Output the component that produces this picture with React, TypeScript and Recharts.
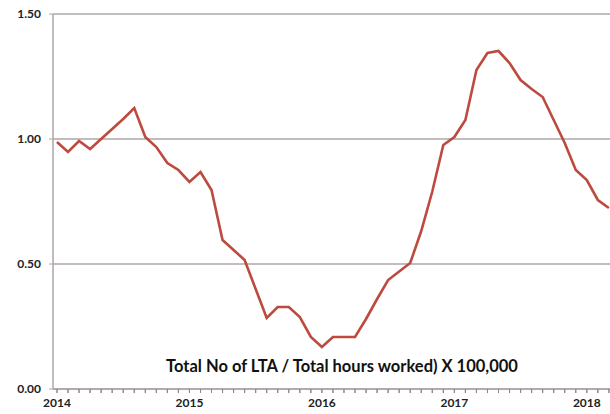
import React from "react";
import { LineChart, Line, XAxis, YAxis, CartesianGrid, ReferenceLine } from "recharts";

const monthIndex = [
  0, 1, 2, 3, 4, 5, 6, 7, 8, 9, 10, 11,
  12, 13, 14, 15, 16, 17, 18, 19, 20, 21, 22, 23,
  24, 25, 26, 27, 28, 29, 30, 31, 32, 33, 34, 35,
  36, 37, 38, 39, 40, 41, 42, 43, 44, 45, 46, 47,
  48, 49, 50,
];
const ltaRate = [
  0.988, 0.948, 0.992, 0.96, 1.0, 1.04, 1.08, 1.124, 1.008, 0.968, 0.904, 0.876,
  0.828, 0.868, 0.796, 0.596, 0.556, 0.516, 0.4, 0.284, 0.328, 0.328, 0.288, 0.208,
  0.168, 0.208, 0.208, 0.208, 0.28, 0.36, 0.436, 0.47, 0.504, 0.632, 0.79, 0.976,
  1.008, 1.076, 1.276, 1.344, 1.352, 1.304, 1.236, 1.2, 1.168, 1.076, 0.984, 0.876,
  0.836, 0.756, 0.724,
];
const yearLabels = ["2014", "2015", "2016", "2017", "2018"];
const yTicks = [0, 0.5, 1.0, 1.5];
const chartTitle = "Total No of LTA / Total hours worked) X 100,000";

const data = monthIndex.map((m, k) => ({ m, v: ltaRate[k] }));
const monthTicks = Array.from({ length: 51 }, (_, k) => k);

const FONT = "Lato, 'Liberation Sans', Arial, sans-serif";

const XTick = (props: any) => {
  const { x, y, payload } = props;
  const v = payload.value;
  if (v % 12 !== 0) return <g />;
  return (
    <text x={x} y={y + 12} textAnchor="middle" fontFamily={FONT} fontWeight="bold" fontSize={12} fill="#222">
      {yearLabels[v / 12]}
    </text>
  );
};

const YTick = (props: any) => {
  const { x, y, payload } = props;
  return (
    <text x={x - 6} y={y + 4} textAnchor="end" fontFamily={FONT} fontWeight="bold" fontSize={12} fill="#222">
      {payload.value.toFixed(2)}
    </text>
  );
};

export default function App() {
  return (
    <div style={{ position: "absolute", left: 0, top: 0, width: 610, height: 414, background: "#fff" }}>
      <LineChart width={610} height={414} data={data} margin={{ top: 14, right: 0, bottom: 0, left: 0 }}>
        <CartesianGrid vertical={false} stroke="#aea6a6" strokeWidth={1.5} />
        <XAxis
          dataKey="m"
          type="number"
          domain={[-0.36, 50.1]}
          allowDataOverflow
          ticks={monthTicks}
          interval={0}
          height={25}
          tick={<XTick />}
          tickSize={4}
          tickLine={{ stroke: "#8e8686" }}
          axisLine={{ stroke: "#aea6a6", strokeWidth: 1.5 }}
        />
        <YAxis
          type="number"
          domain={[0, 1.5]}
          ticks={yTicks}
          width={53}
          tick={<YTick />}
          tickSize={4}
          tickLine={{ stroke: "#aea6a6" }}
          axisLine={{ stroke: "#aea6a6", strokeWidth: 1.5 }}
        />
        {monthTicks.map((m) => (
          <ReferenceLine
            key={m}
            segment={[{ x: m, y: 0 }, { x: m, y: -0.016 }]}
            ifOverflow="visible"
            stroke="#8e8686"
            strokeWidth={1}
          />
        ))}
        <Line
          type="linear"
          dataKey="v"
          stroke="#bd4a3e"
          strokeWidth={2.6}
          dot={false}
          isAnimationActive={false}
        />
      </LineChart>
      <div
        style={{
          position: "absolute",
          left: 127,
          width: 430,
          top: 356,
          textAlign: "center",
          fontFamily: FONT,
          fontWeight: "bold",
          fontSize: 16.5,
          color: "#111",
          whiteSpace: "nowrap",
        }}
      >
        {chartTitle}
      </div>
    </div>
  );
}
